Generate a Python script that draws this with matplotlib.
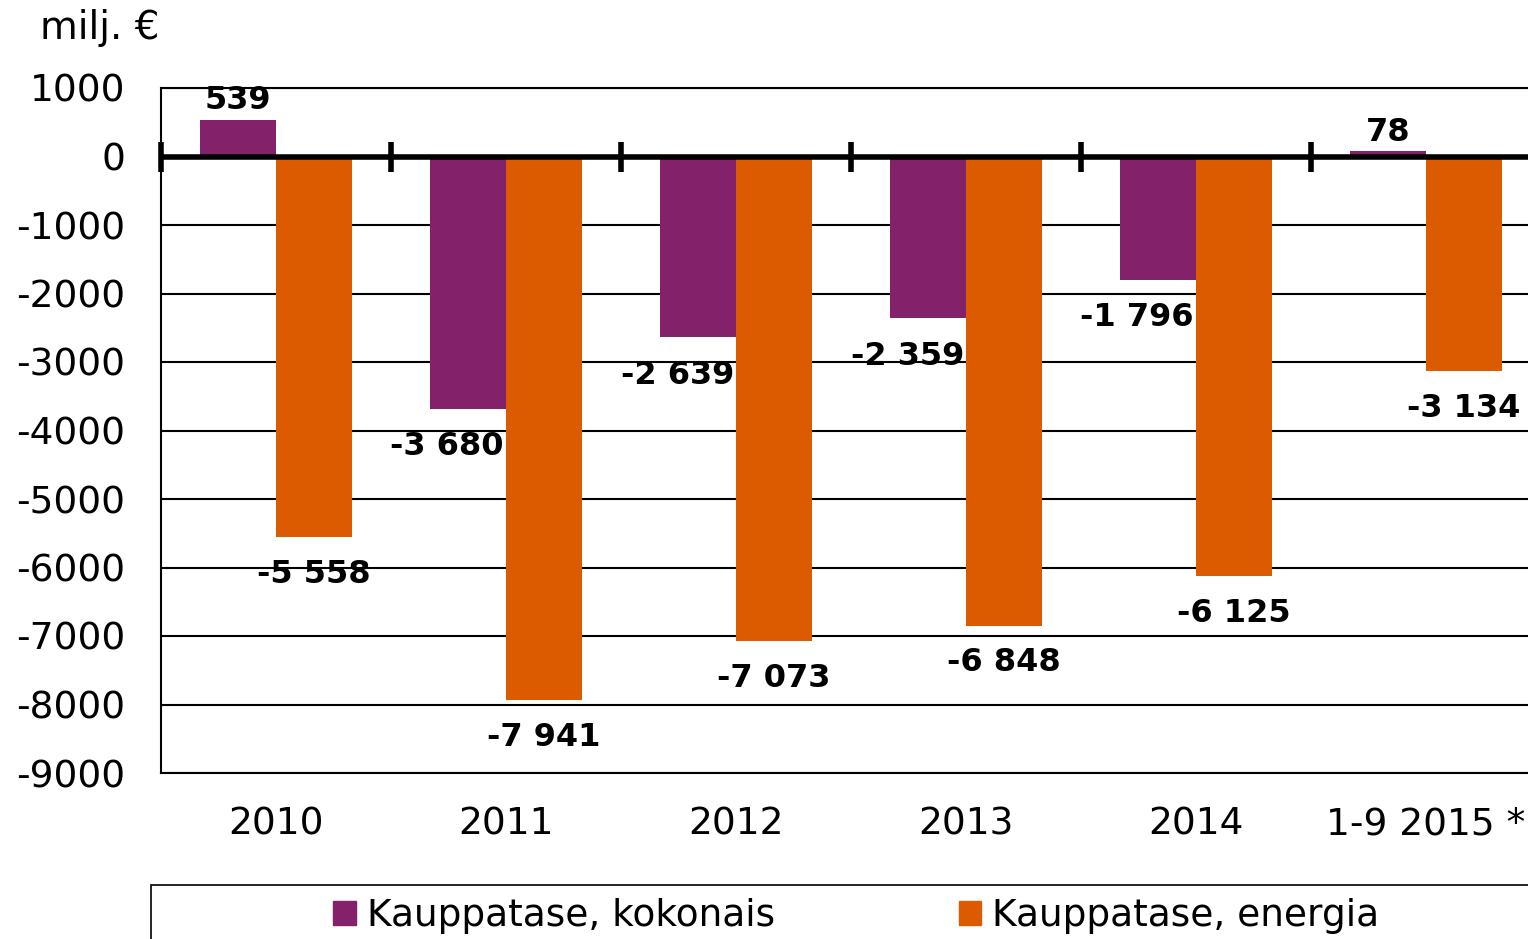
import matplotlib
matplotlib.use("Agg")
import matplotlib.pyplot as plt
from matplotlib.patches import Rectangle, Patch
import numpy as np

categories = ["2010", "2011", "2012", "2013", "2014", "1-9 2015 *"]
kokonais = [539, -3680, -2639, -2359, -1796, 78]
energia = [-5558, -7941, -7073, -6848, -6125, -3134]
series_names = ["Kauppatase, kokonais", "Kauppatase, energia"]
colors = ["#84216B", "#DC5A00"]

plt.rcParams['font.family'] = ['DejaVu Sans']
plt.rcParams['axes.unicode_minus'] = False

W, H = 1528, 939
fig = plt.figure(figsize=(W / 100, H / 100), dpi=100)
# plot area runs past the right edge of the picture, like the original
ax = fig.add_axes([161 / W, (H - 773) / H, 1380 / W, 685 / H])

x = np.arange(len(categories))
bw = 0.33
ax.bar(x - bw / 2, kokonais, bw, color=colors[0], zorder=2)
ax.bar(x + bw / 2, energia, bw, color=colors[1], zorder=2)

ax.set_xlim(-0.5, len(categories) - 0.5)
ax.set_ylim(-9000, 1000)
ax.set_yticks(range(-9000, 1001, 1000))
ax.set_xticks(x)
ax.set_xticklabels(categories)
ax.tick_params(axis='both', length=0, labelsize=27)
ax.tick_params(axis='y', pad=26)
ax.tick_params(axis='x', pad=24)
ax.yaxis.grid(True, color='black', lw=1.5, zorder=0)

for s in ['top', 'left', 'bottom']:
    ax.spines[s].set_linewidth(1.5)
ax.spines['right'].set_visible(False)

# zero line with category separators
ax.axhline(0, color='black', lw=4, zorder=3)
bounds = np.arange(len(categories) + 1) - 0.5
ax.plot(bounds, np.zeros(len(bounds)), ls='none', marker='|', color='black',
        markersize=22, markeredgewidth=4, zorder=4, clip_on=False)

def fmt(v):
    s = f"{abs(v):,}".replace(",", " ")
    return ("-" if v < 0 else "") + s

for i, v in enumerate(kokonais):
    if v >= 0:
        ax.annotate(fmt(v), (x[i] - bw / 2, v), xytext=(0, 19), textcoords='offset pixels',
                    ha='center', va='center', fontsize=23, fontweight='bold', zorder=5)
    else:
        ax.annotate(fmt(v), (x[i], v), xytext=(-2, -38), textcoords='offset pixels',
                    ha='right', va='center', fontsize=23, fontweight='bold', zorder=5)
for i, v in enumerate(energia):
    ax.annotate(fmt(v), (x[i] + bw / 2, v), xytext=(0, -37), textcoords='offset pixels',
                ha='center', va='center', fontsize=23, fontweight='bold', zorder=5)

fig.text(40 / W, 1 - 28 / H, "milj. €", fontsize=28, va='center', ha='left')

# legend box
fig.add_artist(Rectangle((151 / W, -0.1), 1.5, 0.1 + (H - 885) / H, transform=fig.transFigure,
                         fill=False, edgecolor='black', lw=1.2))
handles = [Patch(color=c) for c in colors]
fig.legend(handles, series_names, loc='center left', bbox_to_anchor=(333 / W, 1 - 916 / H),
           ncol=2, frameon=False, fontsize=27, handlelength=0.6, handleheight=0.6,
           handletextpad=0.3, columnspacing=4.9, borderpad=0, borderaxespad=0)

fig.savefig("out.png", dpi=100)
